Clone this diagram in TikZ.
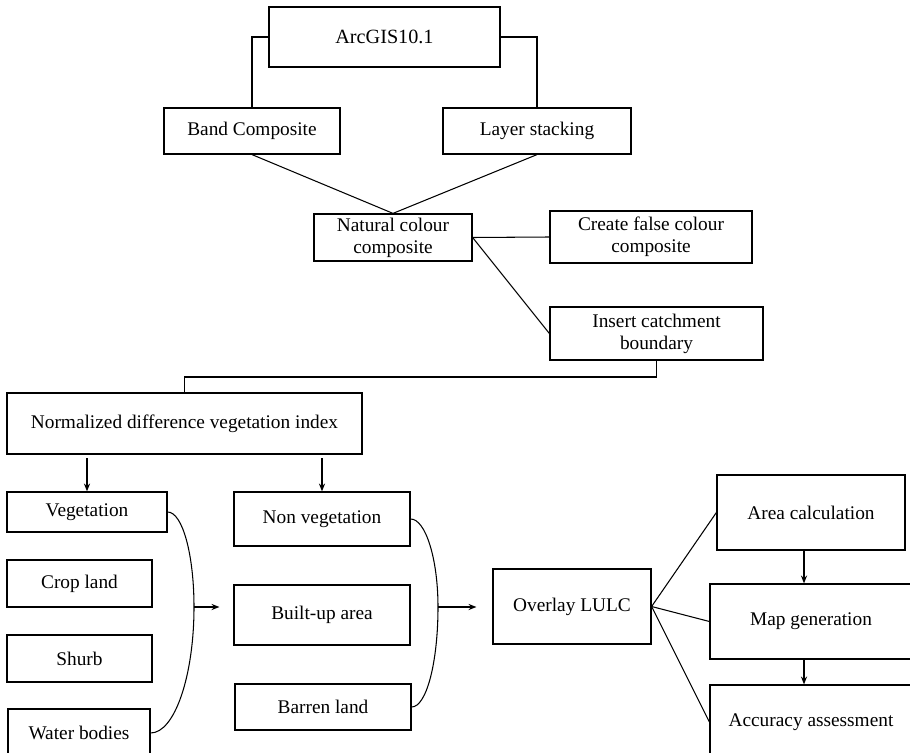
\documentclass[tikz,border=0pt]{standalone}
\usepackage{fontspec}
\setmainfont{Liberation Serif}
\usetikzlibrary{arrows.meta, calc}

\begin{document}
\begin{tikzpicture}[x=0.02cm, y=-0.02cm,
		box/.style={draw, line width=0.7pt, align=center, inner sep=2pt, font=\fontsize{11}{12.5}\selectfont},
		link/.style={line width=0.6pt},
		arr/.style={line width=0.6pt, -{Stealth[length=4.5pt,width=3.5pt]}}]
			\useasboundingbox (0,0) rectangle (910,753);
			\clip (0,0) rectangle (910,753);
			%top part
			\node[box, minimum width=4.62cm, minimum height=1.2cm, font=\fontsize{11.5}{13}\selectfont] (arcgis) at (384.5,37) {ArcGIS10.1};
			\node[box, minimum width=3.52cm, minimum height=0.92cm] (band) at (252,131) {Band Composite};
			\node[box, minimum width=3.76cm, minimum height=0.92cm] (layer) at (537,131) {Layer stacking};
			\node[box, minimum width=3.16cm, minimum height=0.94cm] (natural) at (393,237.5) {Natural colour\\composite};
			\node[box, minimum width=4.04cm, minimum height=1.04cm] (falsecol) at (651,237) {Create false colour\\composite};
			\node[box, minimum width=4.26cm, minimum height=1.06cm] (catchment) at (656.5,333.5) {Insert catchment\\boundary};
			\node[box, minimum width=7.1cm, minimum height=1.22cm] (ndvi) at (184.5,423.5) {Normalized difference vegetation index};
			%classes
			\node[box, minimum width=3.2cm, minimum height=0.8cm] (veg) at (87,512) {Vegetation};
			\node[box, minimum width=2.9cm, minimum height=0.94cm] (crop) at (79.5,583.5) {Crop land};
			\node[box, minimum width=2.9cm, minimum height=0.94cm] (shurb) at (79.5,658.5) {Shurb};
			\node[box, minimum width=2.84cm, minimum height=0.96cm] (water) at (79,733) {Water bodies};
			\node[box, minimum width=3.52cm, minimum height=1.08cm] (nonveg) at (322,519) {Non vegetation};
			\node[box, minimum width=3.52cm, minimum height=1.2cm] (builtup) at (322,615) {Built-up area};
			\node[box, minimum width=3.52cm, minimum height=0.92cm] (barren) at (323,707) {Barren land};
			%outputs
			\node[box, minimum width=3.16cm, minimum height=1.5cm] (overlay) at (572,606.5) {Overlay LULC};
			\node[box, minimum width=3.76cm, minimum height=1.5cm] (areacalc) at (811,512.5) {Area calculation};
			\node[box, minimum width=4.04cm, minimum height=1.5cm] (mapgen) at (811,621.5) {Map generation};
			\node[box, minimum width=4.04cm, minimum height=1.48cm] (accuracy) at (811,722) {Accuracy assessment};
			\coordinate (split) at (184.5,377);
			\coordinate (vegpeak) at (194,607);
			\coordinate (nvpeak) at (438,607);
			\draw[link] (arcgis.west) -| (band.north);
			\draw[link] (arcgis.east) -| (layer.north);
			\draw[link] (band.south) -- (natural.north);
			\draw[link] (layer.south) -- (natural.north);
			\draw[link] (natural.east) -- (falsecol.west);
			\draw[link] (natural.east) -- (catchment.west);
			\draw[link] (catchment.south) |- (split) -- (ndvi.north);
			\draw[arr, shorten <=2pt] (ndvi.south -| veg.north) -- (veg.north);
			\draw[arr, shorten <=2pt] (ndvi.south -| nonveg.north) -- (nonveg.north);
			\draw[link] (veg.east) .. controls +(15,0) and +(0,-52) .. (vegpeak) .. controls +(0,69) and +(24,0) .. (water.east);
			\draw[link] (nonveg.east) .. controls +(15,0) and +(0,-48) .. (nvpeak) .. controls +(0,55) and +(15,0) .. (barren.east);
			\draw[arr, shorten >=0.28cm] (vegpeak) -- (vegpeak -| builtup.west);
			\draw[arr, shorten >=0.32cm] (nvpeak) -- (nvpeak -| overlay.west);
			\draw[link] (overlay.east) -- (areacalc.west);
			\draw[link] (overlay.east) -- (mapgen.west);
			\draw[link] (overlay.east) -- (accuracy.west);
			\draw[arr] ([xshift=-0.14cm]areacalc.south) -- ([xshift=-0.14cm]areacalc.south |- mapgen.north);
			\draw[arr] ([xshift=-0.14cm]mapgen.south) -- ([xshift=-0.14cm]mapgen.south |- accuracy.north);
\end{tikzpicture}
\end{document}
